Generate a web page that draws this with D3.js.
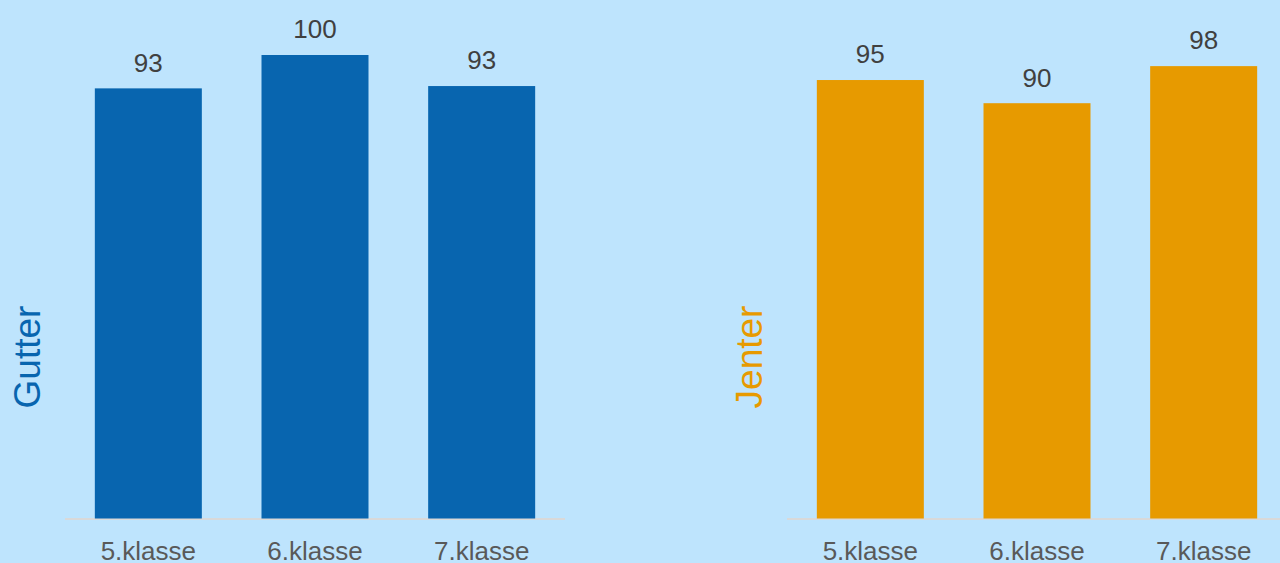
<!DOCTYPE html>
<html>
<head>
<meta charset="utf-8">
<script src="https://cdn.jsdelivr.net/npm/d3@7"></script>
<style>
  html, body { margin: 0; padding: 0; background: #bee4fd; }
  svg { display: block; font-family: "Liberation Sans", Arial, sans-serif; }
  .value { fill: #404040; font-size: 26px; }
  .cat { fill: #595959; font-size: 26px; }
  .title { font-size: 37px; }
</style>
</head>
<body>
<svg id="chart" width="1280" height="563"></svg>
<script>
  var categories = [ "5.klasse" , "6.klasse" , "7.klasse" ];
  var gutterValues = [ 92.8 , 100 , 93.3 ];
  var jenterValues = [ 94.6 , 89.6 , 97.6 ];

  var svg = d3.select( "#chart" );

  var y = d3.scaleLinear().domain( [ 0 , 100 ] ).range( [ 518.5 , 55 ] );
  var fmt = d3.format( ".0f" );

  function drawPanel( values , title , colour , x0 , x1 , titleX ) {
    var x = d3.scaleBand()
              .domain( categories )
              .range( [ x0 , x1 ] )
              .paddingInner( 0.358 )
              .paddingOuter( 0.179 );

    var g = svg.append( "g" );

    // baseline
    g.append( "line" )
      .attr( "x1" , x0 ).attr( "x2" , x1 )
      .attr( "y1" , y( 0 ) + 0.5 ).attr( "y2" , y( 0 ) + 0.5 )
      .attr( "stroke" , "#d9d9d9" ).attr( "stroke-width" , 2 );

    g.selectAll( "rect" ).data( values ).enter().append( "rect" )
      .attr( "x" , function( d , i ) { return x( categories[i] ); } )
      .attr( "y" , function( d ) { return y( d ); } )
      .attr( "width" , x.bandwidth() )
      .attr( "height" , function( d ) { return y( 0 ) - y( d ); } )
      .attr( "fill" , colour );

    g.selectAll( "text.value" ).data( values ).enter().append( "text" )
      .attr( "class" , "value" )
      .attr( "text-anchor" , "middle" )
      .attr( "x" , function( d , i ) { return x( categories[i] ) + x.bandwidth() / 2; } )
      .attr( "y" , function( d ) { return y( d ) - 16.7; } )
      .text( function( d ) { return fmt( d ); } );

    g.selectAll( "text.cat" ).data( categories ).enter().append( "text" )
      .attr( "class" , "cat" )
      .attr( "text-anchor" , "middle" )
      .attr( "x" , function( d ) { return x( d ) + x.bandwidth() / 2; } )
      .attr( "y" , 560 )
      .text( function( d ) { return d; } );

    g.append( "text" )
      .attr( "class" , "title" )
      .attr( "text-anchor" , "middle" )
      .attr( "transform" , "translate(" + titleX + ",357) rotate(-90)" )
      .attr( "fill" , colour )
      .text( title );
  }

  drawPanel( gutterValues , "Gutter" , "#0865af" , 65 , 565 , 39.5 );
  drawPanel( jenterValues , "Jenter" , "#e79a00" , 787 , 1287 , 762 );
</script>
</body>
</html>
